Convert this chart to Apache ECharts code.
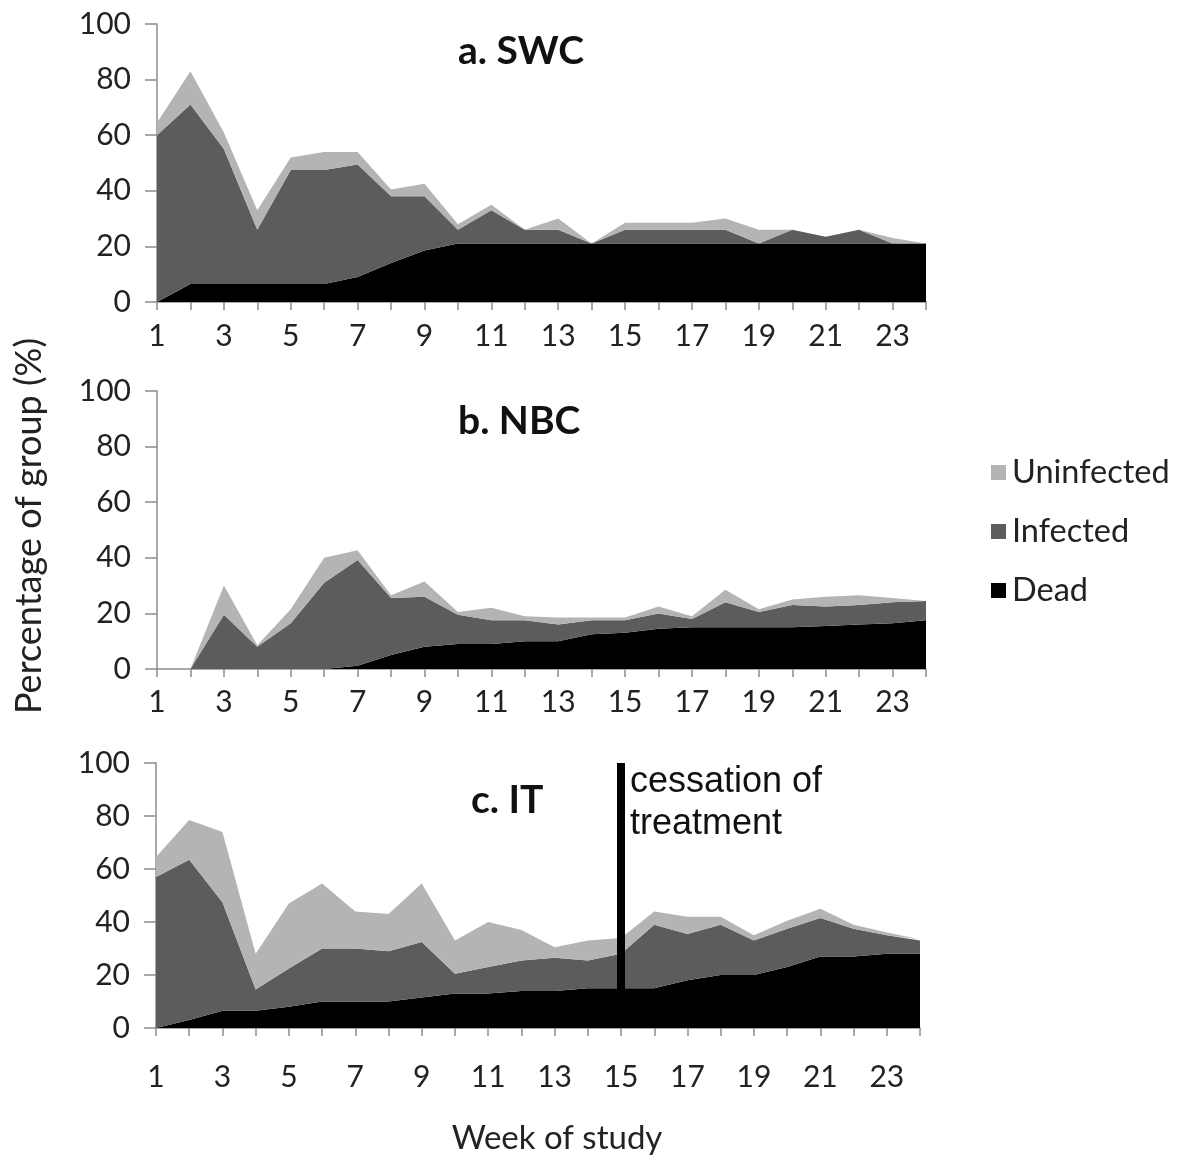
<!DOCTYPE html>
<html>
<head>
<meta charset="utf-8">
<script src="https://cdn.jsdelivr.net/npm/echarts@6/dist/echarts.min.js"></script>
<style>
  html, body { margin: 0; padding: 0; background: #fff; }
  #chart { width: 1189px; height: 1156px; }
</style>
</head>
<body>
<div id="chart"></div>
<script>
// Week categories on the x axis
const weeks = ['1','2','3','4','5','6','7','8','9','10','11','12',
               '13','14','15','16','17','18','19','20','21','22','23','24'];

// a. SWC — percentage of group per status (stacked: Dead, Infected, Uninfected)
const swcDead       = [0, 6.5, 6.5, 6.5, 6.5, 6.5, 9, 14, 18.5, 21, 21, 21, 21, 21, 21, 21, 21, 21, 21, 21, 21, 21, 21, 21];
const swcInfected   = [60, 64.5, 48.5, 19.5, 41, 41, 40.5, 24, 19.5, 5, 12, 5, 5, 0, 5, 5, 5, 5, 0, 5, 2.5, 5, 0, 0];
const swcUninfected = [4.5, 12, 6, 7, 4.5, 6.5, 4.5, 2.5, 4.5, 2, 2, 0, 4, 0, 2.5, 2.5, 2.5, 4, 5, 0, 0, 0, 2, 0];

// b. NBC
const nbcDead       = [0, 0, 0, 0, 0, 0, 1.2, 5, 8, 9, 9, 10, 10, 12.5, 13, 14.5, 15, 15, 15, 15, 15.5, 16, 16.5, 17.5];
const nbcInfected   = [0, 0, 19.5, 8, 16.5, 31, 38, 20.5, 18, 10.5, 8.5, 7.5, 6, 5, 4.5, 5.5, 3, 9, 5.5, 8, 7, 7, 7.5, 7];
const nbcUninfected = [0, 0, 10.5, 0.5, 5, 9, 3.5, 1, 5.5, 1, 4.5, 1.5, 2.5, 1, 1, 2.5, 1, 4.5, 1, 2, 3.5, 3.5, 1.5, 0];

// c. IT
const itDead        = [0, 3, 6.5, 6.5, 8, 10, 10, 10, 11.5, 13, 13, 14, 14, 15, 15, 15, 18, 20, 20, 23, 27, 27, 28, 28];
const itInfected    = [57, 60.5, 41, 8, 14.5, 20, 20, 19, 21, 7.5, 10, 11.5, 12.5, 10.5, 13, 24, 17.5, 19, 13, 14.5, 14.5, 10.5, 7, 5];
const itUninfected  = [7.5, 15, 26.5, 13.5, 24.5, 24.5, 14, 14, 22, 12.5, 17, 11.5, 4, 7.5, 6, 5, 6.5, 3, 2, 3, 3.5, 1.5, 1, 0.5];

// y-axis ticks and the week treatment stopped in the IT group
const yTicks = [0, 20, 40, 60, 80, 100];
const cessationWeek = '15';

const COLORS = { Uninfected: '#b4b4b4', Infected: '#5c5c5c', Dead: '#000000' };
const FONT = 'Lato, "Open Sans", sans-serif';
const AXIS_GRAY = '#8c8c8c';

const panels = [
  { title: 'a. SWC', dead: swcDead, inf: swcInfected, uninf: swcUninfected,
    grid: { left: 157, top: 24, width: 769, height: 278 }, labelMargin: 19, titlePos: [453, 27] },
  { title: 'b. NBC', dead: nbcDead, inf: nbcInfected, uninf: nbcUninfected,
    grid: { left: 157, top: 391, width: 769, height: 278 }, labelMargin: 18, titlePos: [453, 397] },
  { title: 'c. IT', dead: itDead, inf: itInfected, uninf: itUninfected,
    grid: { left: 156, top: 763, width: 764, height: 265 }, labelMargin: 34, titlePos: [466, 776] }
];

const grids = [], xAxes = [], yAxes = [], series = [], titles = [];

panels.forEach((p, i) => {
  grids.push(p.grid);
  xAxes.push({
    type: 'category', gridIndex: i, data: weeks, boundaryGap: false,
    axisLine: { lineStyle: { color: AXIS_GRAY, width: 1.5 } },
    axisTick: { show: true, interval: 0, length: 8, lineStyle: { color: AXIS_GRAY, width: 1.5 } },
    axisLabel: { interval: 1, margin: p.labelMargin, fontFamily: FONT, fontSize: 30, color: '#222' },
    splitLine: { show: false }
  });
  yAxes.push({
    type: 'value', gridIndex: i, min: yTicks[0], max: yTicks[yTicks.length - 1], interval: 20,
    axisLine: { show: true, lineStyle: { color: AXIS_GRAY, width: 1.5 } },
    axisTick: { show: true, length: 12, lineStyle: { color: AXIS_GRAY, width: 1.5 } },
    axisLabel: { margin: 26, fontFamily: FONT, fontSize: 30, color: '#222' },
    splitLine: { show: false }
  });
  titles.push({
    text: p.title, left: p.titlePos[0], top: p.titlePos[1],
    textStyle: { fontFamily: FONT, fontSize: 39, fontWeight: 'bold', color: '#111' }
  });
  [['Dead', p.dead], ['Infected', p.inf], ['Uninfected', p.uninf]].forEach(([name, vals]) => {
    const s = {
      name, type: 'line', xAxisIndex: i, yAxisIndex: i, stack: 'panel' + i,
      data: vals, symbol: 'none', smooth: false,
      lineStyle: { width: 0 },
      areaStyle: { color: COLORS[name], opacity: 1 },
      itemStyle: { color: COLORS[name] },
      emphasis: { disabled: true }
    };
    if (i === 2 && name === 'Uninfected') {
      s.markLine = {
        silent: true, symbol: 'none', label: { show: false },
        lineStyle: { color: '#000', width: 8, type: 'solid' },
        data: [[{ coord: [cessationWeek, 0] }, { coord: [cessationWeek, 100] }]]
      };
    }
    series.push(s);
  });
});

const chart = echarts.init(document.getElementById('chart'), null, { renderer: 'canvas' });
chart.setOption({
  backgroundColor: '#fff',
  animation: false,
  title: titles,
  grid: grids,
  xAxis: xAxes,
  yAxis: yAxes,
  series: series,
  legend: {
    orient: 'vertical', left: 986, top: 451, itemGap: 26,
    itemWidth: 15, itemHeight: 15, icon: 'rect',
    data: ['Uninfected', 'Infected', 'Dead'],
    textStyle: { fontFamily: FONT, fontSize: 32.5, color: '#222', padding: [0, 0, 0, 1] },
    selectedMode: false
  },
  graphic: [
    {
      type: 'text', left: 630, top: 761,
      style: { text: 'cessation of\ntreatment', font: '36px "Liberation Sans", Arial, sans-serif',
               fill: '#111', lineHeight: 42 }
    },
    {
      type: 'text', x: 29, y: 526, rotation: Math.PI / 2,
      style: { text: 'Percentage of group (%)', font: '36px ' + FONT, fill: '#222',
               align: 'center', verticalAlign: 'middle' }
    },
    {
      type: 'text', x: 557, y: 1138,
      style: { text: 'Week of study', font: '33px ' + FONT, fill: '#222',
               align: 'center', verticalAlign: 'middle' }
    }
  ]
});
</script>
</body>
</html>
